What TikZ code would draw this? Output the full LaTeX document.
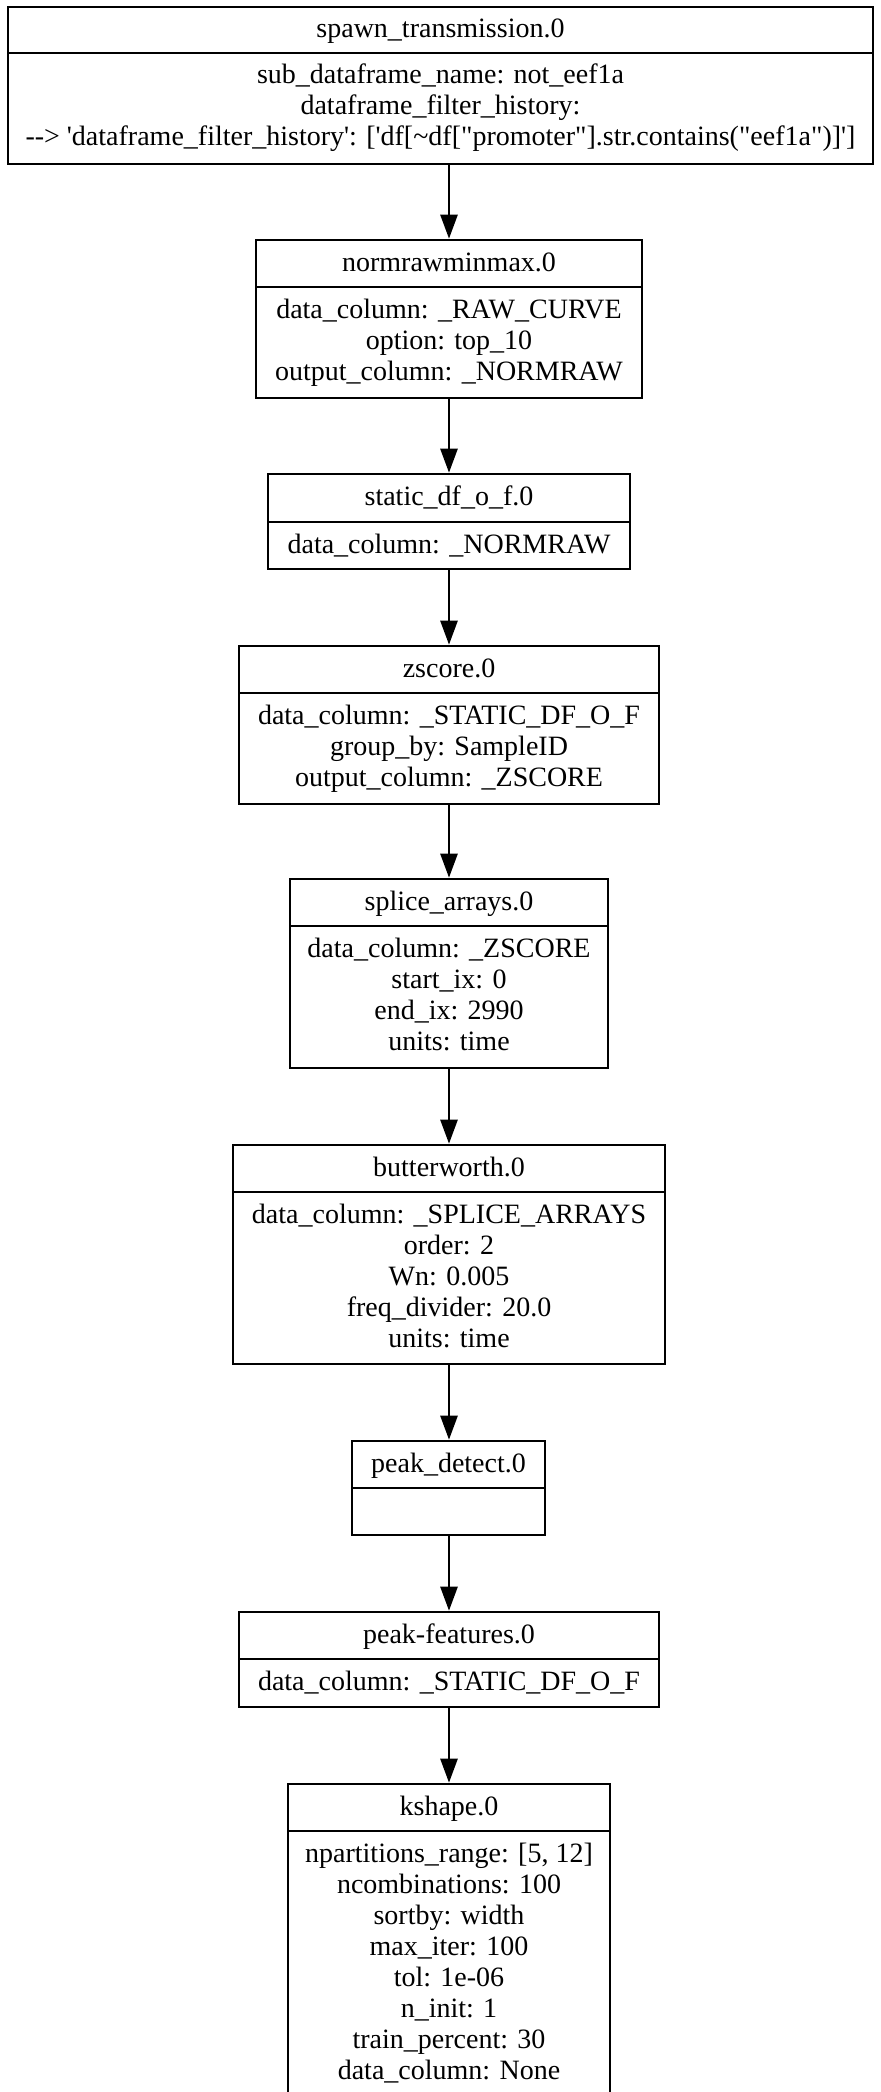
\documentclass[tikz,border=0pt]{standalone}
\usepackage{fontspec}
\newfontfamily\gvfont{Liberation Serif}
\usetikzlibrary{arrows.meta,fit}

\tikzset{
  frame/.style={draw=black, line width=1.3pt, inner sep=0pt, fill=white},
  rule/.style={draw=black, line width=1.3pt},
  lbl/.style={font=\gvfont\fontsize{14pt}{15.5pt}\selectfont, inner sep=0pt, anchor=base},
  flow/.style={draw=black, line width=1.3pt, -{Triangle[length=12pt,width=8.5pt]}},
}

% record box: name, left, right, top, divider, bottom, title
\newcommand\recbox[7]{%
  \coordinate (#1-nw) at (#2,#4);
  \coordinate (#1-se) at (#3,#6);
  \node[frame, fit=(#1-nw)(#1-se)] (#1) {};
  \draw[rule] (#2,#5) -- (#3,#5);
  \node[lbl] (#1-head) at ({(#2+#3)/2},#4+31) {#7};
}
% body lines of a record: name, centre x, divider, list of lines
\newcommand\reclines[4]{%
  \foreach \txt [count=\k] in {#4} {
    \node[lbl] (#1-line\k) at (#2,{#3+31*\k}) {\txt};
  }
}

\begin{document}
\begin{tikzpicture}[x=0.5pt,y=-0.5pt]
  \useasboundingbox (0,0) rectangle (881,2092);
  \fill[white] (0,0) rectangle (881,2092);
  \clip (0,0) rectangle (881,2092);

  \recbox{spawn}{8}{873}{7}{53}{164}{spawn\_transmission.0}
  \reclines{spawn}{440.5}{53}{
    {sub\_dataframe\_name: not\_eef1a},
    {dataframe\_filter\_history:},
    {--> 'dataframe\_filter\_history': ['df[\textasciitilde{}df["promoter"].str.contains("eef1a")]']}}

  \recbox{normraw}{256}{642}{240}{287}{398}{normrawminmax.0}
  \reclines{normraw}{449}{287}{
    {data\_column: \_RAW\_CURVE},
    {option: top\_10},
    {output\_column: \_NORMRAW}}

  \recbox{staticdf}{268}{630}{474}{522}{569}{static\_df\_o\_f.0}
  \reclines{staticdf}{449}{522}{{data\_column: \_NORMRAW}}

  \recbox{zscore}{239}{659}{646}{693}{804}{zscore.0}
  \reclines{zscore}{449}{693}{
    {data\_column: \_STATIC\_DF\_O\_F},
    {group\_by: SampleID},
    {output\_column: \_ZSCORE}}

  \recbox{splice}{290}{608}{879}{926}{1068}{splice\_arrays.0}
  \reclines{splice}{449}{926}{
    {data\_column: \_ZSCORE},
    {start\_ix: 0},
    {end\_ix: 2990},
    {units: time}}

  \recbox{butter}{233}{665}{1145}{1192}{1364}{butterworth.0}
  \reclines{butter}{449}{1192}{
    {data\_column: \_SPLICE\_ARRAYS},
    {order: 2},
    {Wn: 0.005},
    {freq\_divider: 20.0},
    {units: time}}

  \recbox{peakdet}{352}{545}{1441}{1488}{1535}{peak\_detect.0}

  \recbox{peakfeat}{239}{659}{1612}{1659}{1707}{peak-features.0}
  \reclines{peakfeat}{449}{1659}{{data\_column: \_STATIC\_DF\_O\_F}}

  \recbox{kshape}{288}{610}{1784}{1831}{2112}{kshape.0}
  \reclines{kshape}{449}{1831}{
    {npartitions\_range: [5, 12]},
    {ncombinations: 100},
    {sortby: width},
    {max\_iter: 100},
    {tol: 1e-06},
    {n\_init: 1},
    {train\_percent: 30},
    {data\_column: None}}

  % pipeline connectors
  \draw[flow] (spawn.south -| normraw.north) -- (normraw.north);
  \draw[flow] (normraw.south) -- (normraw.south |- staticdf.north);
  \draw[flow] (normraw.south |- staticdf.south) -- (normraw.south |- zscore.north);
  \draw[flow] (normraw.south |- zscore.south) -- (normraw.south |- splice.north);
  \draw[flow] (normraw.south |- splice.south) -- (normraw.south |- butter.north);
  \draw[flow] (normraw.south |- butter.south) -- (normraw.south |- peakdet.north);
  \draw[flow] (normraw.south |- peakdet.south) -- (normraw.south |- peakfeat.north);
  \draw[flow] (normraw.south |- peakfeat.south) -- (normraw.south |- kshape.north);
\end{tikzpicture}
\end{document}
